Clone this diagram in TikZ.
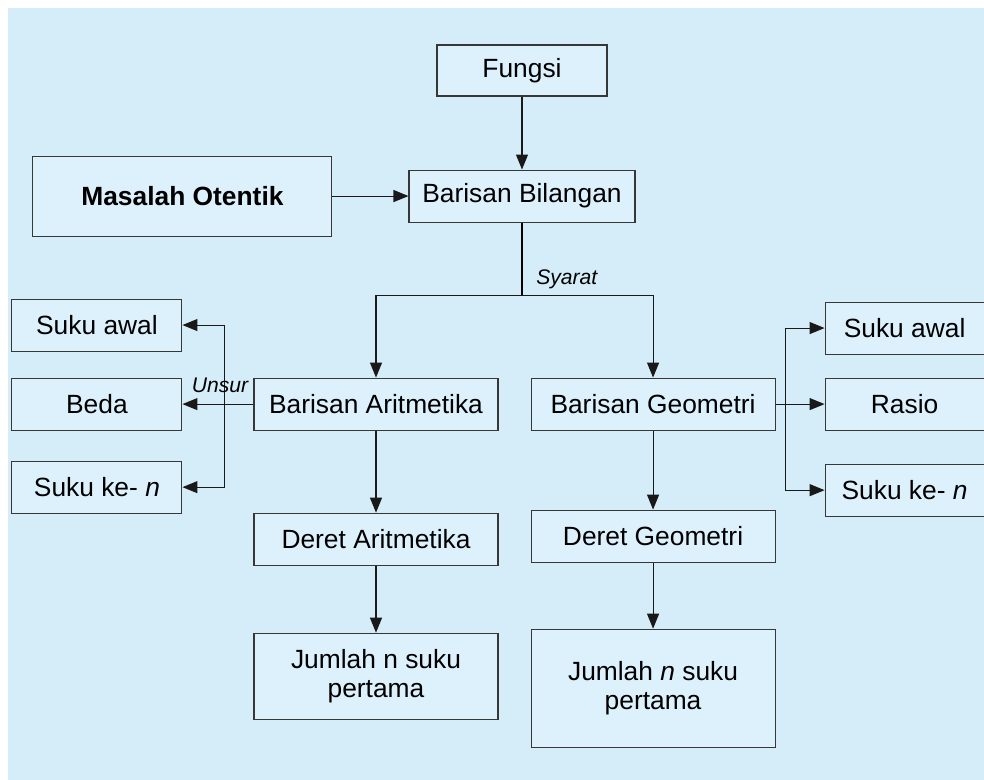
\documentclass[tikz,border=0pt]{standalone}
\usepackage{fontspec}
\setmainfont{Liberation Sans}
\usetikzlibrary{arrows.meta, positioning}
\definecolor{latar}{RGB}{213,236,249}
\definecolor{isikotak}{RGB}{221,241,252}
\definecolor{garis}{RGB}{55,55,55}

\begin{document}
\begin{tikzpicture}[
    kotak/.style={rectangle, draw=garis, line width=0.6pt, fill=isikotak,
                minimum width=4.88cm, minimum height=1.04cm, inner sep=0pt,
                align=center, font=\fontsize{15}{17}\selectfont},
    kecil/.style={kotak, minimum width=3.4cm},
    kecilkanan/.style={kotak, minimum width=3.18cm},
    lbl/.style={font=\fontsize{12}{14}\selectfont\itshape, inner sep=0pt},
    arrow/.style={-{Triangle[length=0.3cm, width=0.24cm]}, line width=0.6pt,
                draw=black!90},
]

% Latar belakang
\useasboundingbox (0,0) rectangle (19.68,-15.6);
\fill[latar] (0.16,-0.16) rectangle (19.68,-15.6);

% Bagian atas
\node[kotak, minimum width=3.4cm, minimum height=1.02cm] (fungsi) at (10.44,-1.41)
    {Fungsi};
\node[kotak, minimum width=4.52cm, below=1.46cm of fungsi] (bilangan)
    {Barisan Bilangan};
\node[kotak, minimum width=5.98cm, minimum height=1.6cm, left=1.52cm of bilangan,
    font=\fontsize{15}{17}\selectfont\bfseries] (masalah) {Masalah Otentik};

% Dua jenis barisan
\node[kotak, below=3.1cm of bilangan, xshift=-2.92cm] (aritmetika)
    {Barisan Aritmetika};
\node[kotak, right=0.64cm of aritmetika] (geometri)
    {Barisan Geometri};

% Deret dan jumlah
\node[kotak, below=1.64cm of aritmetika] (deretA) {Deret Aritmetika};
\node[kotak, minimum height=1.72cm, below=1.34cm of deretA] (jumlahA)
    {Jumlah n suku\\pertama};
\node[kotak, below=1.58cm of geometri] (deretG) {Deret Geometri};
\node[kotak, minimum height=2.36cm, below=1.32cm of deretG] (jumlahG)
    {Jumlah \textit{n} suku\\pertama};

% Unsur barisan aritmetika
\node[kecil, left=1.42cm of aritmetika] (beda) {Beda};
\node[kecil, above=0.52cm of beda] (awalA) {Suku awal};
\node[kecil, below=0.6cm of beda] (sukukeA) {Suku ke- \textit{n}};

% Unsur barisan geometri
\node[kecilkanan, right=0.98cm of geometri] (rasio) {Rasio};
\node[kecilkanan, above=0.46cm of rasio] (awalG) {Suku awal};
\node[kecilkanan, below=0.66cm of rasio] (sukukeG) {Suku ke- \textit{n}};

% Panah
\draw[arrow] (fungsi) -- (bilangan);
\draw[arrow] (masalah) -- (bilangan);
\draw[line width=0.6pt] (bilangan.south) -- ++(0,-1.46) coordinate (cabang);
\draw[arrow] (cabang) -| (aritmetika.north);
\draw[arrow] (cabang) -| (geometri.north);
\node[lbl, anchor=base west] (syarat) at ([xshift=0.28cm, yshift=0.22cm]cabang)
    {Syarat};

\draw[arrow] (aritmetika) -- (beda);
\coordinate (kiri) at ([xshift=-0.58cm]aritmetika.west);
\draw[arrow] (kiri) |- (awalA);
\draw[arrow] (kiri) |- (sukukeA);
\node[lbl, anchor=base west] (unsur) at ([xshift=-0.66cm, yshift=0.24cm]kiri)
    {Unsur};

\draw[arrow] (geometri) -- (rasio);
\coordinate (kanan) at ([xshift=0.2cm]geometri.east);
\draw[arrow] (kanan) |- (awalG);
\draw[arrow] (kanan) |- (sukukeG);

\draw[arrow] (aritmetika) -- (deretA);
\draw[arrow] (deretA) -- (jumlahA);
\draw[arrow] (geometri) -- (deretG);
\draw[arrow] (deretG) -- (jumlahG);

\end{tikzpicture}
\end{document}
